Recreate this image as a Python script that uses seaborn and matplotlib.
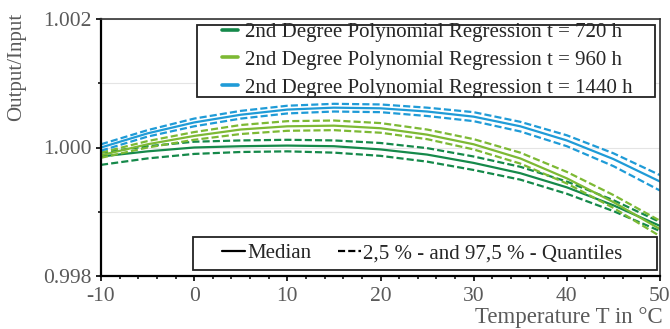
import numpy as np
import pandas as pd
import matplotlib
matplotlib.use("Agg")
import matplotlib.pyplot as plt
import seaborn as sns
from matplotlib.lines import Line2D
from matplotlib.patches import Rectangle
from matplotlib.ticker import FixedLocator, MultipleLocator, FormatStrFormatter

# ---------------- data ----------------
temperature = [-10, -5, 0, 5, 10, 15, 20, 25, 30, 35, 40, 45, 50]

median_720 = [0.99986, 0.99994, 1.00000, 1.00002, 1.00003, 1.00002, 0.99997,
              0.99989, 0.99976, 0.99960, 0.99938, 0.99910, 0.99878]
upper_720 = [0.99992, 1.00002, 1.00009, 1.00011, 1.00012, 1.00011, 1.00007,
             0.99999, 0.99986, 0.99970, 0.99947, 0.99918, 0.99884]
lower_720 = [0.99973, 0.99983, 0.99990, 0.99993, 0.99994, 0.99992, 0.99987,
             0.99978, 0.99965, 0.99950, 0.99928, 0.99901, 0.99870]

median_960 = [0.99988, 1.00005, 1.00018, 1.00028, 1.00033, 1.00034, 1.00030,
              1.00020, 1.00005, 0.99983, 0.99952, 0.99915, 0.99873]
upper_960 = [0.99992, 1.00010, 1.00024, 1.00035, 1.00041, 1.00042, 1.00038,
             1.00028, 1.00013, 0.99992, 0.99962, 0.99926, 0.99886]
lower_960 = [0.99984, 1.00000, 1.00012, 1.00021, 1.00026, 1.00027, 1.00023,
             1.00013, 0.99997, 0.99975, 0.99944, 0.99906, 0.99862]

median_1440 = [1.00000, 1.00022, 1.00039, 1.00051, 1.00059, 1.00062, 1.00061,
               1.00056, 1.00048, 1.00033, 1.00011, 0.99982, 0.99947]
upper_1440 = [1.00005, 1.00027, 1.00045, 1.00057, 1.00065, 1.00068, 1.00067,
              1.00062, 1.00055, 1.00040, 1.00019, 0.99991, 0.99957]
lower_1440 = [0.99995, 1.00017, 1.00033, 1.00045, 1.00053, 1.00056, 1.00055,
              1.00049, 1.00041, 1.00025, 1.00002, 0.99971, 0.99933]

series_names = ["720 h", "960 h", "1440 h"]
series_colors = ["#15894a", "#7db934", "#1f9bd7"]
legend_labels = ["2nd Degree Polynomial Regression t = 720 h",
                 "2nd Degree Polynomial Regression t = 960 h",
                 "2nd Degree Polynomial Regression t = 1440 h"]
stat_labels = ["Median", "2,5 % - and 97,5 % - Quantiles"]

y_major = [0.998, 1.000, 1.002]
y_minor = [0.999, 1.001]

# ---------------- long-form table ----------------
table = {
    "720 h": {"median": median_720, "upper": upper_720, "lower": lower_720},
    "960 h": {"median": median_960, "upper": upper_960, "lower": lower_960},
    "1440 h": {"median": median_1440, "upper": upper_1440, "lower": lower_1440},
}
rows = []
for s in series_names:
    for stat, vals in table[s].items():
        for t, v in zip(temperature, vals):
            rows.append({"T": t, "value": v, "series": s, "stat": stat,
                         "line": s + "_" + stat})
df = pd.DataFrame(rows)

# ---------------- style ----------------
sns.set_theme(style="ticks")
plt.rcParams["font.family"] = ["Liberation Serif", "DejaVu Serif"]
plt.rcParams["axes.unicode_minus"] = False

fig = plt.figure(figsize=(6.7, 3.29), dpi=100)
ax = fig.add_axes([101 / 670, 1 - 276 / 329, 559 / 670, 257 / 329])

palette = dict(zip(series_names, series_colors))
dash_map = {"median": "", "upper": (3.2, 1.4), "lower": (3.2, 1.4)}

sns.lineplot(data=df, x="T", y="value", hue="series", style="stat",
             units="line", estimator=None, palette=palette, dashes=dash_map,
             linewidth=1.6, legend=False, ax=ax, sort=False)

ax.set_xlim(-10, 50)
ax.set_ylim(0.998, 1.002)
ax.xaxis.set_major_locator(MultipleLocator(10))
ax.xaxis.set_minor_locator(MultipleLocator(2))
ax.yaxis.set_major_locator(FixedLocator(y_major))
ax.yaxis.set_minor_locator(FixedLocator(y_minor))
ax.yaxis.set_major_formatter(FormatStrFormatter("%.3f"))
ax.grid(axis="y", which="both", color="#e4e4e4", linewidth=0.8)
ax.set_axisbelow(True)
ax.set_xlabel("")
ax.set_ylabel("")

tick_color = "#5a5a5a"
ax.tick_params(axis="both", which="major", direction="out", length=3.8,
               width=1.2, color="black", labelsize=15.5, labelcolor=tick_color,
               pad=3)
ax.tick_params(axis="both", which="minor", direction="out", length=2.4,
               width=1.1, color="black")
ax.tick_params(axis="x", which="major", pad=4)

for side in ["left", "bottom"]:
    ax.spines[side].set_color("black")
    ax.spines[side].set_linewidth(1.6)
for side in ["top", "right"]:
    ax.spines[side].set_color("#333333")
    ax.spines[side].set_linewidth(1.2)

fig.text(17 / 670, 1 - 13 / 329, "Output/Input", rotation=90, ha="center",
         va="top", fontsize=15, color=tick_color)
fig.text(663 / 670, 1 - 318 / 329, "Temperature T in °C", ha="right",
         va="center", fontsize=16.5, color=tick_color)

# ---------------- legends ----------------
ax.add_patch(Rectangle((0.1717, 0.6965), 0.8193, 0.2802, transform=ax.transAxes,
                       facecolor="white", edgecolor="#222222", linewidth=1.3,
                       zorder=4.5))
handles_top = [Line2D([], [], color=c, linewidth=2.6) for c in series_colors]
leg1 = ax.legend(handles_top, legend_labels, loc="center left",
                 bbox_to_anchor=(0.2165, 0.8405), frameon=False, fontsize=15,
                 handlelength=0.75, handletextpad=0.35, labelspacing=0.4,
                 borderpad=0, borderaxespad=0)
leg1.set_zorder(5)
ax.add_artist(leg1)

ax.add_patch(Rectangle((0.1646, 0.0233), 0.830, 0.1284, transform=ax.transAxes,
                       facecolor="white", edgecolor="#222222", linewidth=1.3,
                       zorder=4.5))
handles_bot = [Line2D([], [], color="black", linewidth=1.6),
               Line2D([], [], color="black", linewidth=1.6,
                      linestyle=(0, (3.2, 1.4)))]
leg2 = ax.legend(handles_bot, stat_labels, loc="center left",
                 bbox_to_anchor=(0.2165, 0.0875), frameon=False, fontsize=15,
                 ncol=2, handlelength=1.1, handletextpad=0.1,
                 columnspacing=1.3, borderpad=0, borderaxespad=0)
leg2.set_zorder(5)

fig.savefig("out.png", dpi=100)
